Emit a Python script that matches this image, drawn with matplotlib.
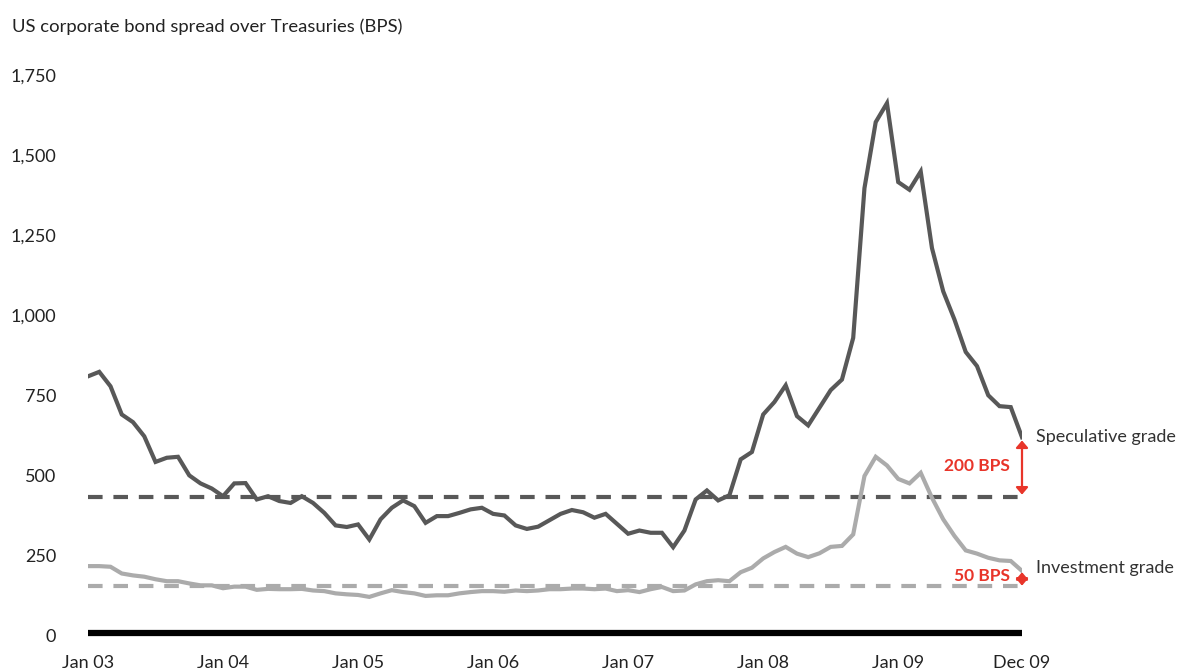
"""
US corporate bond spread over Treasuries, Jan 2003 - Dec 2009 (monthly)
"""
import numpy as np
import matplotlib.pyplot as plt

# monthly values, Jan 03 .. Dec 09 (84 points)
speculative = [
    810, 824, 779, 691, 667, 623, 543, 556, 559, 501, 476, 460,
    436, 476, 477, 426, 436, 421, 415, 436, 415, 384, 345, 340,
    348, 301, 364, 400, 423, 405, 353, 374, 374, 384, 395, 400,
    381, 376, 345, 334, 341, 361, 381, 393, 386, 369, 381, 350,
    319, 329, 322, 322, 277, 329, 426, 454, 423, 439, 551, 574,
    691, 730, 782, 686, 657, 712, 767, 800, 930, 1397, 1603, 1662,
    1416, 1392, 1449, 1210, 1075, 987, 886, 842, 751, 717, 714, 620,
]
investment = [
    218, 218, 216, 195, 189, 185, 177, 171, 171, 164, 158, 158,
    149, 154, 154, 144, 147, 146, 146, 147, 142, 140, 133, 130,
    128, 122, 133, 143, 137, 133, 125, 127, 127, 133, 137, 140,
    140, 138, 142, 140, 142, 146, 146, 148, 148, 146, 148, 140,
    143, 137, 146, 153, 140, 142, 161, 171, 174, 171, 199, 213,
    242, 262, 278, 257, 246, 258, 278, 281, 317, 499, 559, 532,
    490, 476, 509, 431, 364, 312, 267, 257, 244, 236, 234, 203,
]
spec_avg = 433
inv_avg = 155

x_ticks = [0, 12, 24, 36, 48, 60, 72, 83]
x_labels = ["Jan 03", "Jan 04", "Jan 05", "Jan 06", "Jan 07", "Jan 08", "Jan 09", "Dec 09"]
y_ticks = [0, 250, 500, 750, 1000, 1250, 1500, 1750]

DARK = "#585858"
LIGHT = "#ababab"
RED = "#e8352a"


def plot_data():
    plt.rcParams['font.family'] = ['Lato', 'DejaVu Sans']
    fig = plt.figure(figsize=(11.85, 6.71), dpi=100)
    W, H = 1185, 671
    ax = fig.add_axes([88 / W, 35 / H, (1022 - 88) / W, (636 - 75) / H])

    x = np.arange(len(speculative))
    n = len(x) - 1
    ax.plot(x, investment, color=LIGHT, lw=3, solid_joinstyle='miter', zorder=3)
    ax.plot(x, speculative, color=DARK, lw=3, solid_joinstyle='miter', zorder=3)
    ax.plot([0, n], [spec_avg, spec_avg], color=DARK, lw=3, ls=(0, (3.5, 2.6)), zorder=2)
    ax.plot([0, n], [inv_avg, inv_avg], color=LIGHT, lw=3, ls=(0, (3.5, 2.6)), zorder=2)
    ax.plot([0, n], [10, 10], color="black", lw=4.5, solid_capstyle='butt', zorder=4, clip_on=False)

    # spread annotations
    arrow = dict(arrowstyle='<|-|>,head_length=0.35,head_width=0.3', color=RED, lw=1.6,
                 mutation_scale=12, shrinkA=0, shrinkB=0)
    ax.annotate("", xy=(n, spec_avg + 8), xytext=(n, speculative[-1] - 10), arrowprops=arrow)
    ax.annotate("", xy=(n, inv_avg + 2), xytext=(n, investment[-1] - 4), arrowprops=arrow)
    ax.text(n - 1.1, 530, "200 BPS", color=RED, fontsize=12.5, fontweight='bold', ha='right', va='center')
    ax.text(n - 1.1, 187, "50 BPS", color=RED, fontsize=12.5, fontweight='bold', ha='right', va='center')
    ax.text(n + 1.2, speculative[-1] + 2, "Speculative grade", color="#333333", fontsize=13, ha='left', va='center')
    ax.text(n + 1.2, investment[-1] + 10, "Investment grade", color="#333333", fontsize=13, ha='left', va='center')

    ax.set_xlim(0, n)
    ax.set_ylim(0, 1750)
    ax.set_xticks(x_ticks)
    ax.set_xticklabels(x_labels)
    ax.set_yticks(y_ticks)
    ax.set_yticklabels(["{:,}".format(v) for v in y_ticks])
    ax.tick_params(length=0, labelsize=13, labelcolor="#222222")
    ax.tick_params(axis='y', pad=23)
    ax.tick_params(axis='x', pad=14)
    for s in ax.spines.values():
        s.set_visible(False)

    fig.text(12 / W, 1 - 27 / H, "US corporate bond spread over Treasuries (BPS)",
             fontsize=13.3, color="#222222", ha='left', va='center')

    fig.savefig("out.png", dpi=100)


def main():
    plot_data()


if __name__ == "__main__":
    main()
